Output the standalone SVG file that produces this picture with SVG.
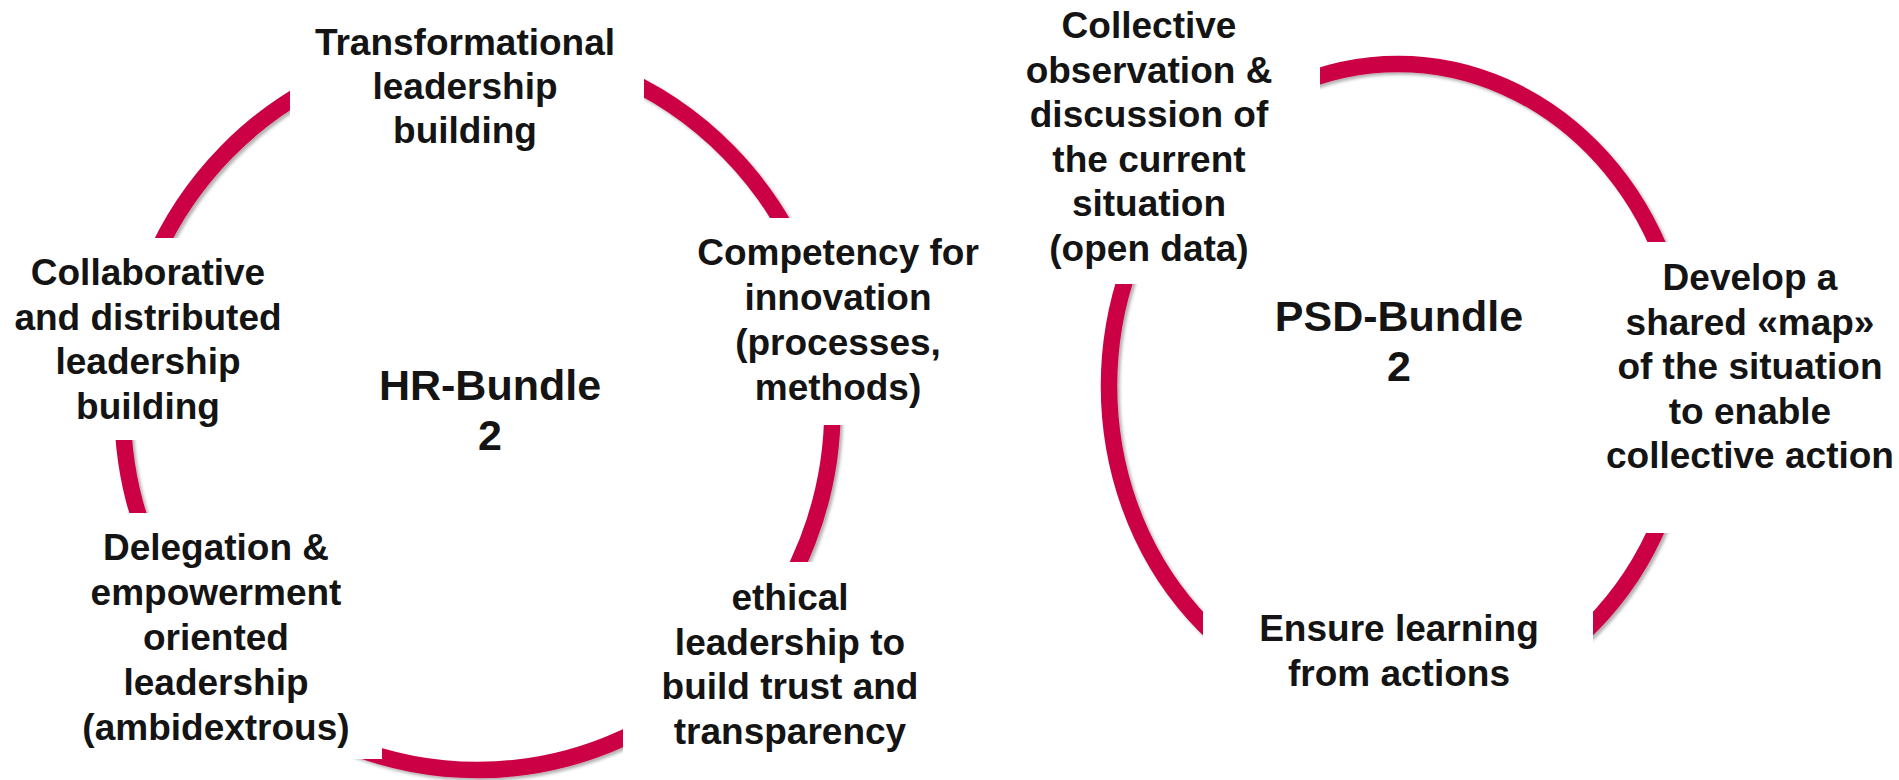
<svg xmlns="http://www.w3.org/2000/svg" width="1899" height="780" viewBox="0 0 1899 780">
  <style>
    .ring { fill: none; stroke: #CC0044; stroke-width: 16.5; filter: url(#shade); }
    .box { fill: #FFFFFF; stroke: none; }
    .lbl { font-family: "Liberation Sans", Arial, sans-serif; font-weight: bold; font-size: 37px; fill: #141414; text-anchor: middle; }
    .hub { font-family: "Liberation Sans", Arial, sans-serif; font-weight: bold; font-size: 43px; fill: #141414; text-anchor: middle; }
  </style>
  <defs>
    <filter id="shade" x="-10%" y="-10%" width="120%" height="120%">
      <feDropShadow dx="2.5" dy="2.5" stdDeviation="1.6" flood-color="#000000" flood-opacity="0.3"/>
    </filter>
  </defs>

  <rect width="1899" height="780" fill="#FFFFFF"/>

  <!-- cycle rings; the white label boxes sit on top and open the gaps -->
  <g id="connectors">
    <ellipse class="ring" cx="477.5" cy="408" rx="355" ry="362"/>
    <ellipse class="ring" cx="1398" cy="386" rx="289" ry="322"/>
  </g>

  <!-- HR bundle -->
  <g id="hr-transformational">
    <rect class="box" x="290" y="0" width="354" height="152"/>
    <text class="lbl" x="465" y="55">Transformational</text>
    <text class="lbl" x="465" y="99">leadership</text>
    <text class="lbl" x="465" y="143">building</text>
  </g>

  <g id="hr-collaborative">
    <rect class="box" x="0" y="238" width="292" height="202"/>
    <text class="lbl" x="148" y="285">Collaborative</text>
    <text class="lbl" x="148" y="329.5">and distributed</text>
    <text class="lbl" x="148" y="374">leadership</text>
    <text class="lbl" x="148" y="418.5">building</text>
  </g>

  <g id="hr-competency">
    <rect class="box" x="690" y="218" width="300" height="207"/>
    <text class="lbl" x="838" y="265">Competency for</text>
    <text class="lbl" x="838" y="310">innovation</text>
    <text class="lbl" x="838" y="355">(processes,</text>
    <text class="lbl" x="838" y="400">methods)</text>
  </g>

  <g id="hr-delegation">
    <rect class="box" x="60" y="513" width="322" height="246"/>
    <text class="lbl" x="216" y="560">Delegation &amp;</text>
    <text class="lbl" x="216" y="605">empowerment</text>
    <text class="lbl" x="216" y="650">oriented</text>
    <text class="lbl" x="216" y="695">leadership</text>
    <text class="lbl" x="216" y="740">(ambidextrous)</text>
  </g>

  <g id="hr-ethical">
    <rect class="box" x="623" y="562" width="320" height="218"/>
    <text class="lbl" x="790" y="610">ethical</text>
    <text class="lbl" x="790" y="654.5">leadership to</text>
    <text class="lbl" x="790" y="699">build trust and</text>
    <text class="lbl" x="790" y="743.5">transparency</text>
  </g>

  <g id="hr-bundle">
    <text class="hub" x="490" y="400">HR-Bundle</text>
    <text class="hub" x="490" y="450">2</text>
  </g>

  <!-- PSD bundle -->
  <g id="psd-observation">
    <rect class="box" x="1010" y="0" width="310" height="284"/>
    <text class="lbl" x="1149" y="38">Collective</text>
    <text class="lbl" x="1149" y="82.5">observation &amp;</text>
    <text class="lbl" x="1149" y="127">discussion of</text>
    <text class="lbl" x="1149" y="171.5">the current</text>
    <text class="lbl" x="1149" y="216">situation</text>
    <text class="lbl" x="1149" y="260.5">(open data)</text>
  </g>

  <g id="psd-map">
    <rect class="box" x="1600" y="242" width="299" height="291"/>
    <text class="lbl" x="1750" y="290">Develop a</text>
    <text class="lbl" x="1750" y="334.5">shared «map»</text>
    <text class="lbl" x="1750" y="379">of the situation</text>
    <text class="lbl" x="1750" y="423.5">to enable</text>
    <text class="lbl" x="1750" y="468">collective action</text>
  </g>

  <g id="psd-learning">
    <rect class="box" x="1203" y="600" width="390" height="180"/>
    <text class="lbl" x="1399" y="641">Ensure learning</text>
    <text class="lbl" x="1399" y="686">from actions</text>
  </g>

  <g id="psd-bundle">
    <text class="hub" x="1399" y="331">PSD-Bundle</text>
    <text class="hub" x="1399" y="381">2</text>
  </g>
</svg>
